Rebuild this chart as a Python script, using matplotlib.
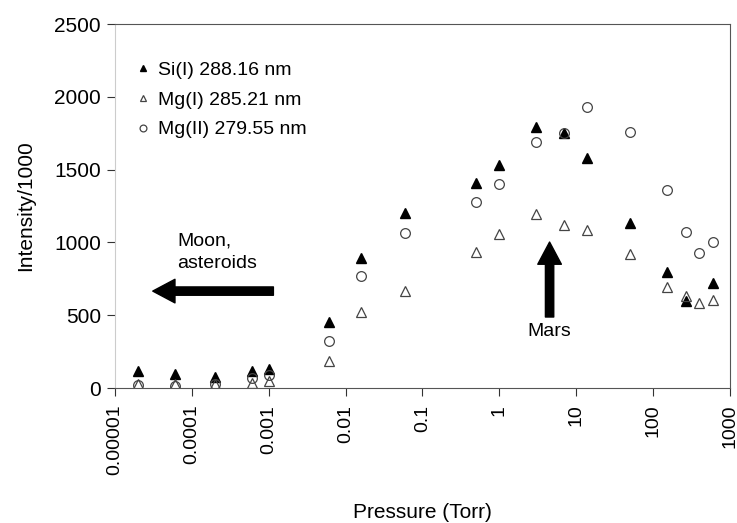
import numpy as np
import matplotlib.pyplot as plt

plt.rcParams['font.family'] = ['Liberation Sans', 'DejaVu Sans']

# pressure (Torr)
pressure = [2e-5, 6e-5, 2e-4, 6e-4, 1e-3, 6e-3, 0.016, 0.06, 0.5, 1, 3, 7, 14, 50, 150, 270, 400, 600]
si_288 = [120, 100, 75, 115, 130, 455, 890, 1200, 1410, 1530, 1790, 1750, 1580, 1135, 795, 600, np.nan, 720]
mg_285 = [30, 25, 30, 35, 50, 185, 520, 665, 935, 1055, 1195, 1120, 1085, 920, 695, 630, 585, 605]
mg_279 = [20, 15, 30, 70, 90, 325, 770, 1065, 1275, 1400, 1690, 1750, 1930, 1760, 1360, 1070, 925, 1000]

y_ticks = [0, 500, 1000, 1500, 2000, 2500]
x_ticks = [1e-5, 1e-4, 1e-3, 1e-2, 1e-1, 1, 10, 100, 1000]
x_labels = ["0.00001", "0.0001", "0.001", "0.01", "0.1", "1", "10", "100", "1000"]

fig = plt.figure(figsize=(7.37, 5.23), dpi=100)
ax = fig.add_axes([0.156, 0.258, 0.8345, 0.696])

ax.plot(pressure, si_288, linestyle='none', marker='^', markersize=7,
        color='black', label='Si(I) 288.16 nm')
ax.plot(pressure, mg_285, linestyle='none', marker='^', markersize=7,
        markerfacecolor='none', markeredgecolor='#444444', markeredgewidth=0.9,
        label='Mg(I) 285.21 nm')
ax.plot(pressure, mg_279, linestyle='none', marker='o', markersize=7,
        markerfacecolor='none', markeredgecolor='#444444', markeredgewidth=0.9,
        label='Mg(II) 279.55 nm')

ax.set_xscale('log')
ax.set_xlim(1e-5, 1000)
ax.set_ylim(0, 2500)
ax.set_xticks(x_ticks)
ax.set_xticklabels(x_labels, rotation=90, fontsize=14)
ax.minorticks_off()
ax.set_yticks(y_ticks)
ax.set_yticklabels([str(v) for v in y_ticks], fontsize=15)
ax.tick_params(axis='y', length=6, color='#333333', pad=4)
ax.tick_params(axis='x', length=6, color='#333333', pad=6)

ax.spines['left'].set_color('#cccccc')
ax.spines['top'].set_color('#555555')
ax.spines['right'].set_color('#555555')
ax.spines['bottom'].set_color('#555555')

ax.set_ylabel('Intensity/1000', fontsize=15, labelpad=14)
ax.set_xlabel('Pressure (Torr)', fontsize=15, labelpad=20)

leg = ax.legend(loc='upper left', bbox_to_anchor=(0.02, 0.924), frameon=False,
                fontsize=14, markerscale=0.7, handlelength=0.6,
                handletextpad=0.5, labelspacing=0.62, borderpad=0)

# annotations
ax.annotate('', xy=(3.1e-5, 666), xytext=(1.15e-3, 666),
            arrowprops=dict(facecolor='black', edgecolor='black', width=6,
                            headwidth=17, headlength=16))
ax.text(6.4e-5, 935, 'Moon,\nasteroids', fontsize=14, ha='left', va='center',
        linespacing=1.45)
ax.annotate('', xy=(4.5, 1003), xytext=(4.5, 488),
            arrowprops=dict(facecolor='black', edgecolor='black', width=6,
                            headwidth=17, headlength=16))
ax.text(4.5, 390, 'Mars', fontsize=14, ha='center', va='center')

fig.savefig('out.png', dpi=100)
